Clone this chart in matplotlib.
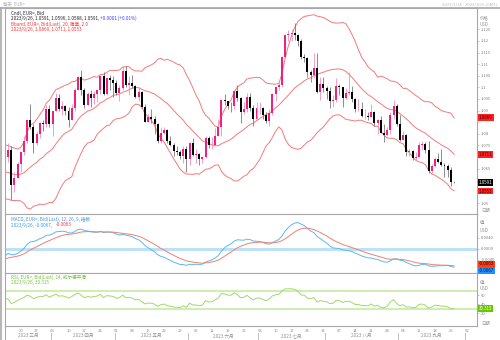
import numpy as np
import pandas as pd
import matplotlib
matplotlib.use('Agg')
import matplotlib.pyplot as plt
from matplotlib.transforms import blended_transform_factory

plt.rcParams['font.family'] = ['Noto Sans CJK SC', 'DejaVu Sans']

# EUR= daily closes 2023/1/2 - 2023/3/13, only used to warm up the indicators
warmupClose = [1.0665, 1.0550, 1.0605, 1.0520, 1.0645,
               1.0730, 1.0735, 1.0760, 1.0850, 1.0830,
               1.0820, 1.0790, 1.0795, 1.0830, 1.0855,
               1.0870, 1.0885, 1.0915, 1.0890, 1.0870,
               1.0850, 1.0865, 1.0990, 1.0910, 1.0795,
               1.0725, 1.0725, 1.0715, 1.0740, 1.0680,
               1.0725, 1.0740, 1.0690, 1.0675, 1.0695,
               1.0685, 1.0650, 1.0605, 1.0595, 1.0545,
               1.0605, 1.0575, 1.0665, 1.0600, 1.0635,
               1.0680, 1.0550, 1.0545, 1.0580, 1.0640,
               1.0730]

# visible candles 2023/3/14 - 2023/9/26, one row per week
openP = [1.0700, 1.0730, 1.0577, 1.0610,
         1.0670, 1.0720, 1.0770, 1.0860, 1.0830,
         1.0760, 1.0800, 1.0845, 1.0840, 1.0905,
         1.0840, 1.0900, 1.0955, 1.0905, 1.0920,
         1.0900, 1.0860, 1.0910, 1.0990, 1.1045,
         1.0990, 1.0925, 1.0970, 1.0955, 1.0970,
         1.0990, 1.1050, 1.0970, 1.1040, 1.1030,
         1.1020, 1.0975, 1.0995, 1.1070, 1.1010,
         1.1020, 1.1005, 1.0960, 1.0980, 1.0915,
         1.0850, 1.0870, 1.0865, 1.0840, 1.0770,
         1.0805, 1.0815, 1.0770, 1.0750, 1.0725,
         1.0720, 1.0705, 1.0735, 1.0690, 1.0760,
         1.0710, 1.0712, 1.0690, 1.0700, 1.0780,
         1.0750, 1.0752, 1.0790, 1.0830, 1.0945,
         1.0940, 1.0920, 1.0918, 1.0985, 1.0955,
         1.0895, 1.0905, 1.0960, 1.0910, 1.0865,
         1.0910, 1.0912, 1.0880, 1.0855, 1.0890,
         1.0970, 1.1000, 1.1010, 1.1130, 1.1225,
         1.1230, 1.1235, 1.1225, 1.1200, 1.1130,
         1.1125, 1.1065, 1.1055, 1.1085, 1.0980,
         1.1015, 1.0995, 1.0985, 1.0940, 1.0945,
         1.1005, 1.1000, 1.0955, 1.0975, 1.0980,
         1.0950, 1.0905, 1.0908, 1.0875, 1.0878,
         1.0870, 1.0895, 1.0845, 1.0860, 1.0805,
         1.0795, 1.0815, 1.0880, 1.0920, 1.0840,
         1.0775, 1.0795, 1.0720, 1.0725, 1.0695,
         1.0700, 1.0750, 1.0755, 1.0730, 1.0640,
         1.0660, 1.0690, 1.0680, 1.0665, 1.0660,
         1.0645, 1.0591]
highP = [1.0760, 1.0745, 1.0635, 1.0680,
         1.0720, 1.0790, 1.0860, 1.0930, 1.0840,
         1.0810, 1.0850, 1.0860, 1.0925, 1.0925,
         1.0900, 1.0975, 1.0970, 1.0940, 1.0925,
         1.0915, 1.0930, 1.0995, 1.1050, 1.1075,
         1.0995, 1.0980, 1.0990, 1.0985, 1.0990,
         1.1050, 1.1065, 1.1040, 1.1055, 1.1050,
         1.1030, 1.1010, 1.1090, 1.1092, 1.1050,
         1.1055, 1.1010, 1.1000, 1.0985, 1.0930,
         1.0885, 1.0905, 1.0875, 1.0845, 1.0830,
         1.0830, 1.0820, 1.0790, 1.0760, 1.0745,
         1.0730, 1.0745, 1.0745, 1.0765, 1.0780,
         1.0735, 1.0715, 1.0705, 1.0790, 1.0790,
         1.0785, 1.0825, 1.0865, 1.0950, 1.0970,
         1.0940, 1.0935, 1.0985, 1.1010, 1.0960,
         1.0935, 1.0975, 1.0975, 1.0925, 1.0935,
         1.0935, 1.0915, 1.0895, 1.0905, 1.0975,
         1.1000, 1.1025, 1.1135, 1.1230, 1.1245,
         1.1250, 1.1276, 1.1230, 1.1210, 1.1145,
         1.1130, 1.1075, 1.1150, 1.1150, 1.1045,
         1.1045, 1.1005, 1.1000, 1.0965, 1.1040,
         1.1015, 1.1000, 1.0995, 1.1065, 1.1005,
         1.0955, 1.0950, 1.0935, 1.0905, 1.0895,
         1.0930, 1.0900, 1.0865, 1.0875, 1.0840,
         1.0830, 1.0895, 1.0945, 1.0930, 1.0880,
         1.0810, 1.0800, 1.0735, 1.0730, 1.0720,
         1.0765, 1.0770, 1.0765, 1.0770, 1.0670,
         1.0700, 1.0715, 1.0735, 1.0675, 1.0670,
         1.0655, 1.0596]
lowP = [1.0680, 1.0516, 1.0550, 1.0610,
        1.0635, 1.0710, 1.0760, 1.0820, 1.0715,
        1.0750, 1.0780, 1.0810, 1.0830, 1.0830,
        1.0790, 1.0900, 1.0900, 1.0880, 1.0880,
        1.0830, 1.0860, 1.0900, 1.0990, 1.0965,
        1.0910, 1.0925, 1.0915, 1.0930, 1.0935,
        1.0970, 1.0965, 1.0965, 1.0990, 1.0960,
        1.0965, 1.0940, 1.0990, 1.1000, 1.0965,
        1.0995, 1.0955, 1.0940, 1.0910, 1.0850,
        1.0850, 1.0845, 1.0800, 1.0760, 1.0760,
        1.0800, 1.0760, 1.0745, 1.0705, 1.0710,
        1.0690, 1.0675, 1.0635, 1.0665, 1.0705,
        1.0675, 1.0665, 1.0675, 1.0695, 1.0740,
        1.0735, 1.0750, 1.0790, 1.0790, 1.0925,
        1.0905, 1.0895, 1.0905, 1.0940, 1.0845,
        1.0885, 1.0895, 1.0900, 1.0835, 1.0860,
        1.0885, 1.0865, 1.0845, 1.0835, 1.0880,
        1.0940, 1.0990, 1.1000, 1.1125, 1.1200,
        1.1200, 1.1205, 1.1180, 1.1120, 1.1110,
        1.1045, 1.1025, 1.1040, 1.0975, 1.0945,
        1.0980, 1.0950, 1.0910, 1.0915, 1.0935,
        1.0965, 1.0915, 1.0950, 1.0965, 1.0935,
        1.0895, 1.0900, 1.0870, 1.0865, 1.0860,
        1.0870, 1.0835, 1.0800, 1.0805, 1.0765,
        1.0790, 1.0800, 1.0865, 1.0835, 1.0770,
        1.0775, 1.0705, 1.0705, 1.0685, 1.0685,
        1.0700, 1.0730, 1.0715, 1.0630, 1.0630,
        1.0655, 1.0675, 1.0660, 1.0615, 1.0615,
        1.0575, 1.0588]
closeP = [1.0730, 1.0577, 1.0610, 1.0670,
          1.0720, 1.0770, 1.0860, 1.0830, 1.0760,
          1.0800, 1.0845, 1.0840, 1.0905, 1.0840,
          1.0900, 1.0955, 1.0905, 1.0920, 1.0900,
          1.0860, 1.0910, 1.0990, 1.1045, 1.0990,
          1.0925, 1.0970, 1.0955, 1.0970, 1.0990,
          1.1050, 1.0970, 1.1040, 1.1030, 1.1020,
          1.0975, 1.0995, 1.1070, 1.1010, 1.1020,
          1.1005, 1.0960, 1.0980, 1.0915, 1.0850,
          1.0870, 1.0865, 1.0840, 1.0770, 1.0805,
          1.0815, 1.0770, 1.0750, 1.0725, 1.0720,
          1.0705, 1.0735, 1.0690, 1.0760, 1.0710,
          1.0712, 1.0690, 1.0700, 1.0780, 1.0750,
          1.0752, 1.0790, 1.0830, 1.0945, 1.0940,
          1.0920, 1.0918, 1.0985, 1.0955, 1.0895,
          1.0905, 1.0960, 1.0910, 1.0865, 1.0910,
          1.0912, 1.0880, 1.0855, 1.0890, 1.0970,
          1.1000, 1.1010, 1.1130, 1.1225, 1.1230,
          1.1235, 1.1225, 1.1200, 1.1130, 1.1125,
          1.1065, 1.1055, 1.1085, 1.0980, 1.1015,
          1.0995, 1.0985, 1.0940, 1.0945, 1.1005,
          1.1000, 1.0955, 1.0975, 1.0980, 1.0950,
          1.0905, 1.0908, 1.0875, 1.0878, 1.0870,
          1.0895, 1.0845, 1.0860, 1.0805, 1.0795,
          1.0815, 1.0880, 1.0920, 1.0840, 1.0775,
          1.0795, 1.0720, 1.0725, 1.0695, 1.0700,
          1.0750, 1.0755, 1.0730, 1.0640, 1.0660,
          1.0690, 1.0680, 1.0665, 1.0660, 1.0645,
          1.0590, 1.0591]

monthNames = {3: '三月', 4: '四月', 5: '五月', 6: '六月', 7: '七月', 8: '八月', 9: '九月'}

# last values shown in the labels on the right edge
bandLast = [1.0869, 1.0711, 1.0553]
priceLast = 1.0591
macdLast = [-0.0067, -0.0063]
rsiLast = 30.315

W, H = 500, 340
fig = plt.figure(figsize=(5, 3.4), dpi=100)
fig.patch.set_facecolor('white')


def box(x0, y0, x1, y1):
    return [x0 / W, 1 - y1 / H, (x1 - x0) / W, (y1 - y0) / H]


def ftext(x, y, s, **kw):
    kw.setdefault('fontsize', 3.3)
    kw.setdefault('va', 'center')
    return fig.text(x / W, 1 - y / H, s, **kw)


axMain = fig.add_axes(box(5, 7.5, 477, 214))
axMacd = fig.add_axes(box(5, 214, 477, 273), sharex=axMain)
axRsi = fig.add_axes(box(5, 273, 477, 326), sharex=axMain)

# business-day axis: 0 = 2023/3/13
dates = pd.bdate_range('2023-03-13', '2023-10-06')
nDays = len(closeP)
xs = np.arange(1, nDays + 1)

# indicators from the closes
allClose = pd.Series(warmupClose + closeP)
mid = allClose.rolling(20).mean()
sd = allClose.rolling(20).std(ddof=0)
upper = mid + 2 * sd
lower = mid - 2 * sd
macd = allClose.ewm(span=12, adjust=False).mean() - allClose.ewm(span=26, adjust=False).mean()
signal = macd.ewm(span=9, adjust=False).mean()
delta = allClose.diff()
gain = delta.clip(lower=0).ewm(alpha=1 / 14, adjust=False).mean()
loss = (-delta.clip(upper=0)).ewm(alpha=1 / 14, adjust=False).mean()
rsi = 100 - 100 / (1 + gain / loss)

nShow = nDays + 1
xl = np.arange(0, nShow)
tail = lambda s: s.iloc[-nShow:].values

# candles
o = np.array(openP)
h = np.array(highP)
l = np.array(lowP)
c = np.array(closeP)
up = c > o
axMain.vlines(xs, l, h, colors=np.where(up, '#f590ba', '#7a7a7a'), lw=0.6, zorder=2)
axMain.bar(xs, np.maximum(np.abs(c - o), 0.00025), bottom=np.minimum(o, c), width=0.62,
           color=np.where(up, '#f2207a', '#000000'), lw=0, zorder=3)
for band in (upper, mid, lower):
    axMain.plot(xl, tail(band), color='#f47a7a', lw=0.7, zorder=1)

axMacd.axhline(0, color='#bde2f7', lw=2.2, zorder=0)
axMacd.plot(xl, tail(macd), color='#5cb9ef', lw=0.7)
axMacd.plot(xl, tail(signal), color='#ef8070', lw=0.7)

axRsi.axhline(70, color='#c6eba0', lw=1.2, zorder=0)
axRsi.axhline(30, color='#c6eba0', lw=1.2, zorder=0)
axRsi.plot(xl, tail(rsi), color='#a2d86e', lw=0.7)

axMain.set_xlim(0.07, 148.2)
axMain.set_ylim(1.0454, 1.1344)
axMacd.set_ylim(-0.0089, 0.0127)
axRsi.set_ylim(-8, 110)

for ax in (axMain, axMacd, axRsi):
    ax.set_facecolor('white')
    for sp in ax.spines.values():
        sp.set_color('#a8a8a8')
        sp.set_linewidth(0.8)
    ax.yaxis.tick_right()
    ax.tick_params(axis='y', direction='out', length=1.5, width=0.4, color='#a0a0a0',
                   pad=1, labelsize=3.0, labelcolor='#808080')
    ax.tick_params(axis='x', length=0, labelbottom=False)

# price ticks; the ones under the value boxes stay unlabeled
mainTicks = [1.125, 1.12, 1.115, 1.11, 1.105, 1.1, 1.095, 1.09, 1.085, 1.08, 1.075,
             1.07, 1.065, 1.06, 1.055, 1.05]
hiddenTicks = [1.085, 1.07, 1.06, 1.055]
axMain.set_yticks(mainTicks)
axMain.set_yticklabels(['' if v in hiddenTicks else format(v, 'g') for v in mainTicks])
macdTicks = [-0.004, 0.0, 0.004]
axMacd.set_yticks(macdTicks)
axMacd.set_yticklabels(['%.4f' % v for v in macdTicks])
axRsi.set_yticks([20, 40, 60])

# weekly ticks on Mondays
mondays = np.where(dates.dayofweek == 0)[0]
mondays = mondays[mondays >= 5]
axRsi.set_xticks(mondays)
axRsi.set_xticklabels(['%02d' % dates[i].day for i in mondays])
axRsi.tick_params(axis='x', labelbottom=True, pad=2, labelsize=3.0, labelcolor='#909090')

# month row
tr = blended_transform_factory(axRsi.transData, fig.transFigure)
x0, x1 = axRsi.get_xlim()
for m, name in monthNames.items():
    idx = np.where(dates.month == m)[0]
    lo, hi = max(idx[0] - 0.5, x0), min(idx[-1] + 0.5, x1)
    fig.text((lo + hi) / 2, 1 - 335.5 / H, '2023 ' + name, transform=tr, fontsize=3.3,
             color='#909090', ha='center', va='center')
    if m > 3:
        fig.add_artist(plt.Line2D([idx[0] - 0.5] * 2, [1 - 333 / H, 1 - 339 / H],
                                  transform=tr, color='#a0a0a0', lw=0.5))
oct1 = np.where(dates.month == 10)[0][0] - 0.5
fig.add_artist(plt.Line2D([oct1] * 2, [1 - 333 / H, 1 - 339 / H], transform=tr,
                          color='#a0a0a0', lw=0.5))

# frame lines outside the panels
fig.add_artist(plt.Line2D([1 / W, 1 / W], [0, 1 - 7.5 / H], color='#b8b8b8', lw=1.5))
fig.add_artist(plt.Line2D([0, 1], [1 - 7.5 / H] * 2, color='#a8a8a8', lw=1.2))
fig.add_artist(plt.Line2D([5 / W] * 2, [0, 1 - 326 / H], color='#a8a8a8', lw=0.8))

# header
ftext(3, 3.8, '每天  EUR=', color='#b0b0b0', fontsize=3.2)
ftext(497, 4.5, '2023/3/14 - 2023/10/5 (GMT)', color='#b8b8b8', fontsize=3.0, ha='right')

# panel labels
ftext(11, 13.3, 'Cndl, EUR=, Bid', color='#202040')
ftext(11, 18.7, '2023/9/26, 1.0591, 1.0596, 1.0588, 1.0591,', color='#202020')
ftext(99.5, 18.7, '+0.0001 (+0.01%)', color='#3a3aff')
ftext(11, 24.3, 'Bband, EUR=, Bid(Last), 20, 简单, 2.0', color='#ff3030')
ftext(11, 29.3, '2023/9/26, 1.0869, 1.0711, 1.0553', color='#ff3030')

ftext(11, 219.5, 'MACD, EUR=, Bid(Last), 12, 26, 9, 指数', color='#3a9ae6')
ftext(11, 225, '2023/9/26, -0.0067,', color='#3a9ae6')
ftext(56, 225, '-0.0063', color='#ff3030')

ftext(11, 277, 'RSI, EUR=, Bid(Last), 14, 威尔德平滑', color='#72c23a')
ftext(11, 282.5, '2023/9/26, 30.315', color='#72c23a')

# right axis headers
for y, s in [(17.3, '价格'), (24, 'USD'), (223, '值'), (230.5, 'USD'),
             (282, '值'), (288.5, 'USD')]:
    ftext(480, y, s, color='#909090', fontsize=3.2)
for y in (210.5, 323):
    ftext(481, y, '日期', color='#a0a0a0', fontsize=3.2)


# value boxes on the right edge
def tag(ax, y, s, bg, fg):
    ax.text(1.004, y, s, transform=blended_transform_factory(ax.transAxes, ax.transData),
            fontsize=3.2, color=fg, ha='left', va='center', clip_on=False, zorder=10,
            bbox=dict(boxstyle='square,pad=0.2', fc=bg, ec='none'))


tag(axMain, bandLast[0], '%.4f' % bandLast[0], '#ff2020', '#500000')
tag(axMain, bandLast[1], '%.4f' % bandLast[1], '#ff2020', '#500000')
tag(axMain, priceLast, '%.4f' % priceLast, '#000000', '#ffffff')
tag(axMain, bandLast[2], '%.4f' % bandLast[2], '#ff2020', '#500000')
tag(axMacd, macdLast[1] + 0.0007, '%.4f' % macdLast[1], '#ff3a10', '#400000')
tag(axMacd, macdLast[0] - 0.0012, '%.4f' % macdLast[0], '#1e90ff', '#002050')
tag(axRsi, rsiLast, '%.3f' % rsiLast, '#66c800', '#ffffff')

fig.savefig('out.png', dpi=100, facecolor='white')
